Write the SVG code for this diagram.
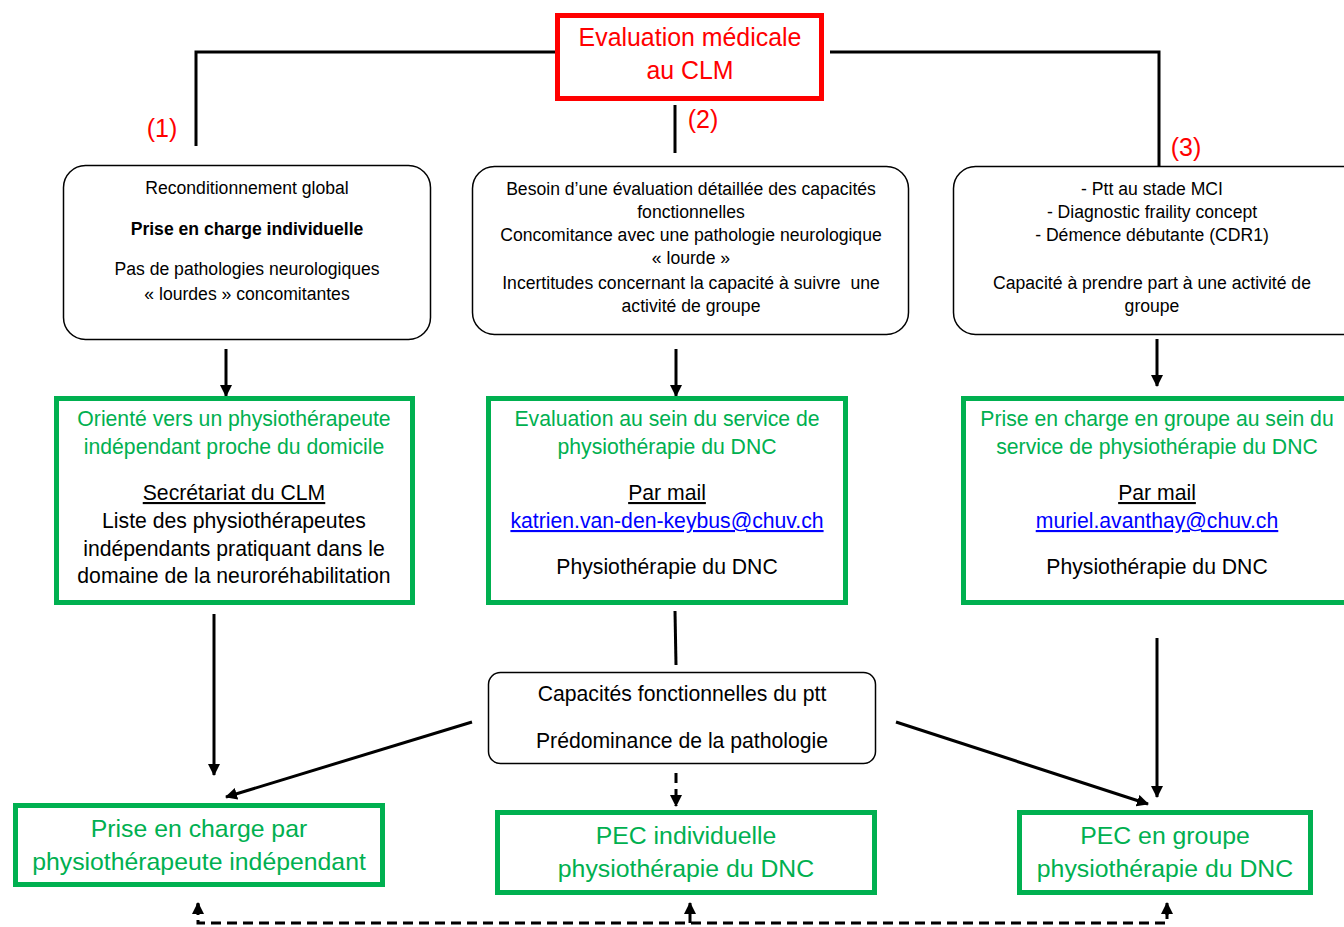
<svg xmlns="http://www.w3.org/2000/svg" width="1344" height="927" viewBox="0 0 1344 927">
<defs>
<style>
text{font-family:"Liberation Sans",Arial,sans-serif;text-anchor:middle;}
.red{fill:#FF0000;}
.lbl{fill:#FF0000;font-size:25px;}
.small{font-size:17.6px;fill:#000;}
.mid{font-size:21.2px;fill:#000;}
.big{font-size:24.8px;}
.grn{fill:#00B050;}
.link{fill:#0000FF;text-decoration:underline;}
.ul{text-decoration:underline;}
.rbox{fill:#fff;stroke:#000;stroke-width:1.5;}
.gbox{fill:#fff;stroke:#00B050;stroke-width:5;}
.line{fill:none;stroke:#000;stroke-width:3;}
.dash{fill:none;stroke:#000;stroke-width:3;stroke-dasharray:10,6;}
</style>
<marker id="ah" markerUnits="userSpaceOnUse" markerWidth="12" markerHeight="12" viewBox="0 0 12 12" refX="11" refY="6" orient="auto">
<path d="M0,0 L12,6 L0,12 Z" fill="#000"/>
</marker>
</defs>
<rect width="1344" height="927" fill="#fff"/>

<g id="connectors">
<polyline class="line" points="557,52 196,52 196,146"/>
<polyline class="line" points="830,52 1159,52 1159,166"/>
<line class="line" x1="675" y1="105" x2="675" y2="153"/>
<line class="line" x1="226" y1="349" x2="226" y2="396" marker-end="url(#ah)"/>
<line class="line" x1="676" y1="349" x2="676" y2="396" marker-end="url(#ah)"/>
<line class="line" x1="1157" y1="339" x2="1157" y2="386" marker-end="url(#ah)"/>
<line class="line" x1="214" y1="614" x2="214" y2="775" marker-end="url(#ah)"/>
<line class="line" x1="675" y1="611" x2="676" y2="665"/>
<line class="line" x1="472" y1="722" x2="226" y2="797" marker-end="url(#ah)"/>
<line class="line" x1="896" y1="722" x2="1148" y2="804" marker-end="url(#ah)"/>
<line class="line" x1="1157" y1="638" x2="1157" y2="797" marker-end="url(#ah)"/>
<line class="dash" x1="676" y1="773" x2="676" y2="806" marker-end="url(#ah)"/>
<polyline class="dash" points="198,904 198,923 1167,923 1167,904"/>
<line class="line" x1="198" y1="915" x2="198" y2="903" marker-end="url(#ah)"/>
<line class="line" x1="690" y1="923" x2="690" y2="903" marker-end="url(#ah)"/>
<line class="line" x1="1167" y1="915" x2="1167" y2="903" marker-end="url(#ah)"/>
<text class="lbl" x="162" y="137">(1)</text>
<text class="lbl" x="703" y="128">(2)</text>
<text class="lbl" x="1186" y="156">(3)</text>
</g>

<g id="n_eval">
<rect x="557.5" y="15.5" width="264" height="83" fill="#fff" stroke="#FF0000" stroke-width="5"/>
<text class="red" x="690" y="46" font-size="24.9">Evaluation médicale</text>
<text class="red" x="690" y="79" font-size="24.9">au CLM</text>
</g>

<g id="n_c1">
<rect class="rbox" x="63.5" y="165.5" width="367" height="174" rx="22"/>
<text class="small" x="247" y="194">Reconditionnement global</text>
<text class="small" x="247" y="235" font-weight="bold">Prise en charge individuelle</text>
<text class="small" x="247" y="275">Pas de pathologies neurologiques</text>
<text class="small" x="247" y="300">« lourdes » concomitantes</text>
</g>

<g id="n_c2">
<rect class="rbox" x="472.5" y="166.5" width="436" height="168" rx="22"/>
<text class="small" x="691" y="195">Besoin d’une évaluation détaillée des capacités</text>
<text class="small" x="691" y="218">fonctionnelles</text>
<text class="small" x="691" y="241">Concomitance avec une pathologie neurologique</text>
<text class="small" x="691" y="264">« lourde »</text>
<text class="small" x="691" y="289" xml:space="preserve">Incertitudes concernant la capacité à suivre  une</text>
<text class="small" x="691" y="312">activité de groupe</text>
</g>

<g id="n_c3">
<rect class="rbox" x="953.5" y="166.5" width="420" height="168" rx="22"/>
<text class="small" x="1152" y="195">- Ptt au stade MCI</text>
<text class="small" x="1152" y="218">- Diagnostic fraility concept</text>
<text class="small" x="1152" y="241">- Démence débutante (CDR1)</text>
<text class="small" x="1152" y="289">Capacité à prendre part à une activité de</text>
<text class="small" x="1152" y="312">groupe</text>
</g>

<g id="n_g1">
<rect class="gbox" x="56.5" y="398.5" width="356" height="204"/>
<text class="mid grn" x="234" y="426">Orienté vers un physiothérapeute</text>
<text class="mid grn" x="234" y="454">indépendant proche du domicile</text>
<text class="mid ul" x="234" y="500">Secrétariat du CLM</text>
<text class="mid" x="234" y="528">Liste des physiothérapeutes</text>
<text class="mid" x="234" y="556">indépendants pratiquant dans le</text>
<text class="mid" x="234" y="583">domaine de la neuroréhabilitation</text>
</g>

<g id="n_g2">
<rect class="gbox" x="488.5" y="398.5" width="357" height="204"/>
<text class="mid grn" x="667" y="426">Evaluation au sein du service de</text>
<text class="mid grn" x="667" y="454">physiothérapie du DNC</text>
<text class="mid ul" x="667" y="500">Par mail</text>
<text class="mid link" x="667" y="528">katrien.van-den-keybus@chuv.ch</text>
<text class="mid" x="667" y="574">Physiothérapie du DNC</text>
</g>

<g id="n_g3">
<rect class="gbox" x="963.5" y="398.5" width="400" height="204"/>
<text class="mid grn" x="1157" y="426">Prise en charge en groupe au sein du</text>
<text class="mid grn" x="1157" y="454">service de physiothérapie du DNC</text>
<text class="mid ul" x="1157" y="500">Par mail</text>
<text class="mid link" x="1157" y="528">muriel.avanthay@chuv.ch</text>
<text class="mid" x="1157" y="574">Physiothérapie du DNC</text>
</g>

<g id="n_cap">
<rect class="rbox" x="488.5" y="672.5" width="387" height="91" rx="12"/>
<text x="682" y="701" font-size="21.2">Capacités fonctionnelles du ptt</text>
<text x="682" y="748" font-size="21.2">Prédominance de la pathologie</text>
</g>

<g id="n_b1">
<rect class="gbox" x="15.5" y="805.5" width="367" height="79"/>
<text class="grn big" x="199" y="837">Prise en charge par</text>
<text class="grn big" x="199" y="870">physiothérapeute indépendant</text>
</g>

<g id="n_b2">
<rect class="gbox" x="497.5" y="812.5" width="377" height="80"/>
<text class="grn big" x="686" y="844">PEC individuelle</text>
<text class="grn big" x="686" y="877">physiothérapie du DNC</text>
</g>

<g id="n_b3">
<rect class="gbox" x="1019.5" y="812.5" width="291" height="80"/>
<text class="grn big" x="1165" y="844">PEC en groupe</text>
<text class="grn big" x="1165" y="877">physiothérapie du DNC</text>
</g>
</svg>
